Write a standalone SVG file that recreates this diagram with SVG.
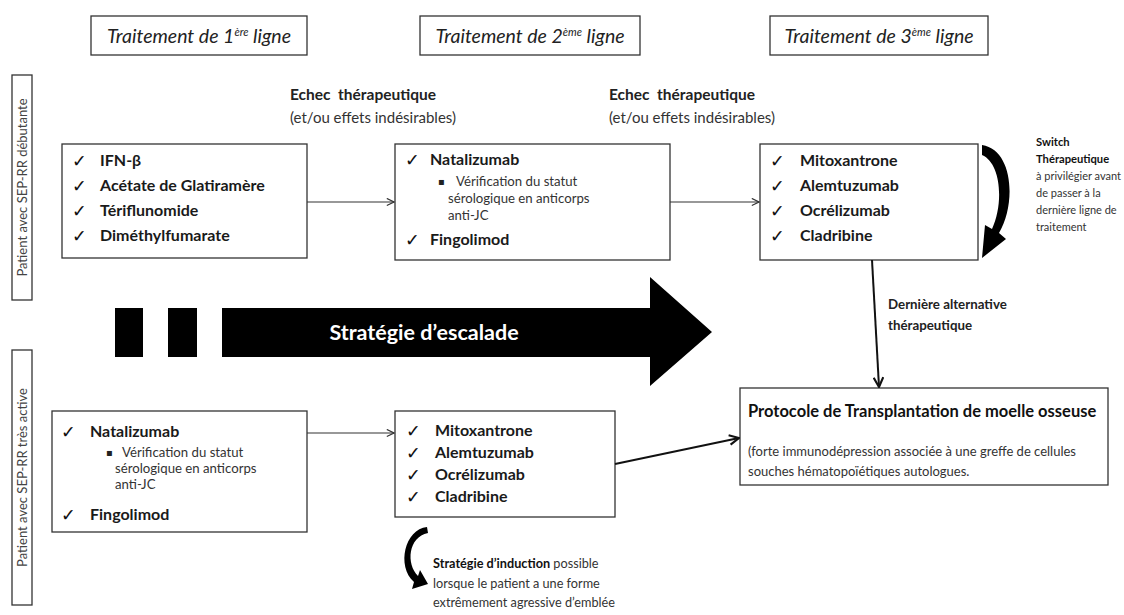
<svg xmlns="http://www.w3.org/2000/svg" width="1124" height="615" viewBox="0 0 1124 615">
<defs>
<style>
text{font-family:Lato,"Liberation Sans",sans-serif;fill:#1a1a1a}
.box{fill:#fff;stroke:#333;stroke-width:1.3}
.hdr{font-style:italic;font-size:19.5px;fill:#222}
.sup{font-size:11px}
.item{font-weight:bold;font-size:16px}
.chk{font-family:"DejaVu Sans",sans-serif;font-weight:bold;font-size:17.5px;fill:#111}
.sub{font-size:13.2px;fill:#333}
.bul{font-family:"DejaVu Sans",sans-serif;font-size:10px;fill:#222}
.echec{font-weight:bold;font-size:15.5px;fill:#222}
.etou{font-size:15px;fill:#333}
.side{font-size:13px;fill:#444}
.note{font-size:11px;fill:#333}
.noteb{font-size:11.2px;font-weight:bold;fill:#111}
.ind{font-size:12.7px;fill:#333}
.conn{fill:none;stroke:#333;stroke-width:1.2}
.connb{fill:none;stroke:#111;stroke-width:2}
</style>
<marker id="open" viewBox="0 0 10 10" refX="9" refY="5" markerWidth="9" markerHeight="9" markerUnits="userSpaceOnUse" orient="auto">
<path d="M1,1 L9,5 L1,9" fill="none" stroke="#333" stroke-width="1.3"/>
</marker>
<marker id="openb" viewBox="0 0 10 10" refX="9" refY="5" markerWidth="12" markerHeight="12" markerUnits="userSpaceOnUse" orient="auto">
<path d="M1,1 L9,5 L1,9" fill="none" stroke="#111" stroke-width="1.8"/>
</marker>
</defs>
<rect width="1124" height="615" fill="#fff"/>

<g id="header1"><rect class="box" x="91" y="16" width="216" height="39"/><text class="hdr" x="199" y="43" text-anchor="middle">Traitement de 1<tspan class="sup" dy="-7">ère</tspan><tspan dy="7"> ligne</tspan></text></g>
<g id="header2"><rect class="box" x="420" y="16" width="220" height="39"/><text class="hdr" x="530" y="43" text-anchor="middle">Traitement de 2<tspan class="sup" dy="-7">ème</tspan><tspan dy="7"> ligne</tspan></text></g>
<g id="header3"><rect class="box" x="770" y="16" width="218" height="39"/><text class="hdr" x="879" y="43" text-anchor="middle">Traitement de 3<tspan class="sup" dy="-7">ème</tspan><tspan dy="7"> ligne</tspan></text></g>

<g id="label-debutante"><rect class="box" x="12" y="75" width="20" height="225"/><text class="side" transform="translate(27,187.5) rotate(-90)" text-anchor="middle">Patient avec SEP-RR débutante</text></g>
<g id="label-active"><rect class="box" x="12" y="350" width="20" height="255"/><text class="side" transform="translate(27,477.5) rotate(-90)" text-anchor="middle">Patient avec SEP-RR très active</text></g>

<g id="echec1"><text class="echec" x="290" y="100" xml:space="preserve">Echec  thérapeutique</text><text class="etou" x="290" y="123">(et/ou effets indésirables)</text></g>
<g id="echec2"><text class="echec" x="609" y="100" xml:space="preserve">Echec  thérapeutique</text><text class="etou" x="609" y="123">(et/ou effets indésirables)</text></g>

<g id="boxA"><rect class="box" x="62" y="144" width="245" height="114"/>
<text class="chk" x="72" y="167">✓</text><text class="item" x="100" y="166">IFN-β</text>
<text class="chk" x="72" y="192">✓</text><text class="item" x="100" y="191">Acétate de Glatiramère</text>
<text class="chk" x="72" y="217">✓</text><text class="item" x="100" y="216">Tériflunomide</text>
<text class="chk" x="72" y="242">✓</text><text class="item" x="100" y="241">Diméthylfumarate</text></g>

<g id="boxB"><rect class="box" x="395" y="144" width="275" height="116"/>
<text class="chk" x="405" y="166">✓</text><text class="item" x="430" y="165">Natalizumab</text>
<text class="bul" x="438" y="185">▪</text><text class="sub" x="456" y="186">Vérification du statut</text>
<text class="sub" x="448" y="203">sérologique en anticorps</text>
<text class="sub" x="448" y="220">anti-JC</text>
<text class="chk" x="405" y="246">✓</text><text class="item" x="430" y="245">Fingolimod</text></g>

<g id="boxC"><rect class="box" x="760" y="144" width="218" height="116"/>
<text class="chk" x="770" y="167">✓</text><text class="item" x="800" y="166">Mitoxantrone</text>
<text class="chk" x="770" y="192">✓</text><text class="item" x="800" y="191">Alemtuzumab</text>
<text class="chk" x="770" y="217">✓</text><text class="item" x="800" y="216">Ocrélizumab</text>
<text class="chk" x="770" y="242">✓</text><text class="item" x="800" y="241">Cladribine</text></g>

<g id="switch">
<path d="M982,145 C1014,150 1016,205 999,233 L1006,239 L982,258 L985,225 L992,229 C1004,203 1001,163 982,155 Z" fill="#000"/>
<text class="noteb" x="1036" y="146">Switch</text>
<text class="noteb" x="1036" y="163">Thérapeutique</text>
<text class="note" x="1036" y="180">à privilégier avant</text>
<text class="note" x="1036" y="197">de passer à la</text>
<text class="note" x="1036" y="214">dernière ligne de</text>
<text class="note" x="1036" y="231">traitement</text>
</g>

<g id="escalade">
<rect x="115" y="308" width="28" height="49" fill="#000"/>
<rect x="168" y="308" width="29" height="49" fill="#000"/>
<path d="M222,308 L650,308 L650,277 L712,332 L650,386 L650,357 L222,357 Z" fill="#000"/>
<text x="424" y="340" text-anchor="middle" style="font-weight:bold;font-size:21.5px;fill:#fff">Stratégie d’escalade</text>
</g>

<g id="derniere"><text x="888" y="309" style="font-weight:bold;font-size:13.3px;fill:#222">Dernière alternative</text><text x="888" y="330" style="font-weight:bold;font-size:13.3px;fill:#222">thérapeutique</text></g>

<g id="boxD"><rect class="box" x="52" y="411" width="255" height="121"/>
<text class="chk" x="61" y="438">✓</text><text class="item" x="90" y="437">Natalizumab</text>
<text class="bul" x="106" y="456">▪</text><text class="sub" x="122" y="457">Vérification du statut</text>
<text class="sub" x="115" y="473">sérologique en anticorps</text>
<text class="sub" x="115" y="489">anti-JC</text>
<text class="chk" x="61" y="521">✓</text><text class="item" x="90" y="520">Fingolimod</text></g>

<g id="boxE"><rect class="box" x="395" y="411" width="220" height="106"/>
<text class="chk" x="406" y="437">✓</text><text class="item" x="435" y="436">Mitoxantrone</text>
<text class="chk" x="406" y="459">✓</text><text class="item" x="435" y="458">Alemtuzumab</text>
<text class="chk" x="406" y="481">✓</text><text class="item" x="435" y="480">Ocrélizumab</text>
<text class="chk" x="406" y="503">✓</text><text class="item" x="435" y="502">Cladribine</text></g>

<g id="induction">
<path d="M427,527 C405,529 396,566 414,582 L412,589 L428,584 L420,570 L418,576 C406,564 408,537 428,533 Z" fill="#000"/>
<text class="ind" x="433" y="568"><tspan style="font-weight:bold;fill:#111">Stratégie d’induction</tspan> possible</text>
<text class="ind" x="433" y="588">lorsque le patient a une forme</text>
<text class="ind" x="433" y="607">extrêmement agressive d’emblée</text>
</g>

<g id="protocole"><rect class="box" x="740" y="388" width="368" height="97"/>
<text x="748" y="417" style="font-weight:bold;font-size:16.5px;fill:#111">Protocole de Transplantation de moelle osseuse</text>
<text x="748" y="456" style="font-size:13px;fill:#333">(forte immunodépression associée à une greffe de cellules</text>
<text x="748" y="476" style="font-size:13px;fill:#333">souches hématopoïétiques autologues.</text></g>

<g id="connectors">
<line class="conn" x1="307" y1="202" x2="394" y2="202" marker-end="url(#open)"/>
<line class="conn" x1="670" y1="202" x2="759" y2="202" marker-end="url(#open)"/>
<line class="connb" x1="872" y1="260" x2="879" y2="387" marker-end="url(#openb)"/>
<line class="conn" x1="307" y1="433" x2="394" y2="433" marker-end="url(#open)"/>
<line class="connb" x1="615" y1="464" x2="739" y2="438" marker-end="url(#openb)"/>
</g>
</svg>
